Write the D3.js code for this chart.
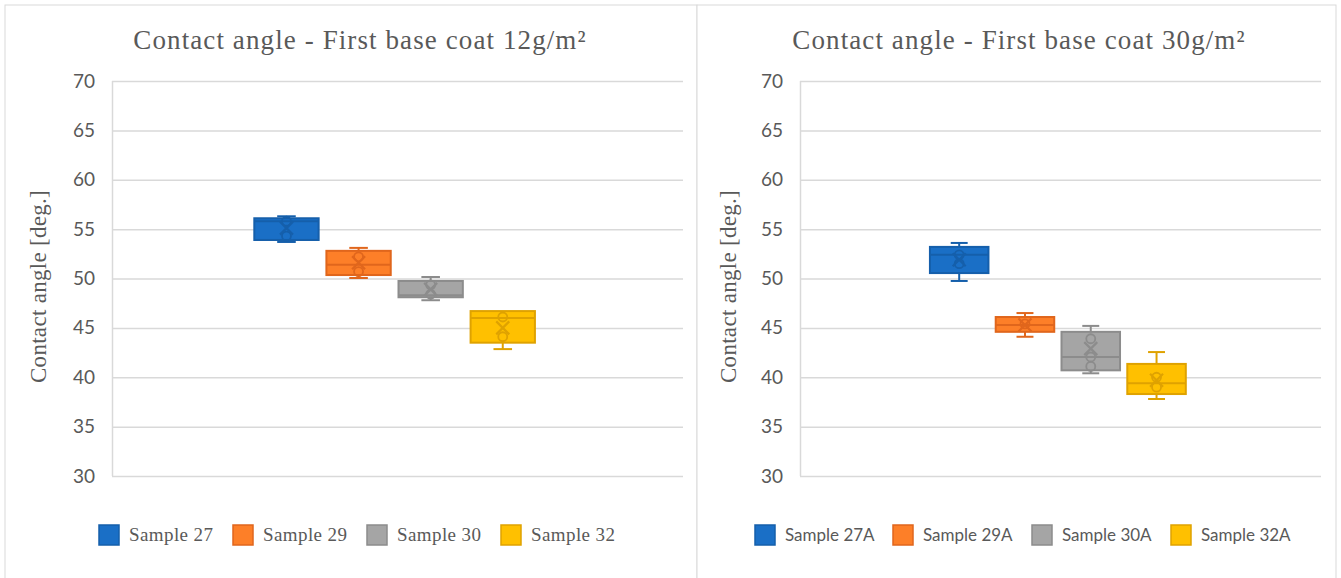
<!DOCTYPE html>
<html>
<head>
<meta charset="utf-8">
<script src="https://cdn.jsdelivr.net/npm/d3@7"></script>
<style>
  body { margin: 0; background: #fff; }
  svg { display: block; }
</style>
</head>
<body>
<svg id="chart" width="1341" height="578"></svg>
<script>
// -------------------------
// DATA
// -------------------------
const samplesLeft = ["Sample 27", "Sample 29", "Sample 30", "Sample 32"];
const minLeft = [53.7, 50.05, 47.8, 42.85];
const q1Left = [53.9, 50.35, 48.1, 43.5];
const medLeft = [55.8, 51.4, 48.3, 46.0];
const q3Left = [56.1, 52.8, 49.75, 46.7];
const maxLeft = [56.3, 53.1, 50.15, 46.7];
const meanLeft = [55.1, 51.6, 48.9, 45.0];
const pointsLeft = [[55.8, 54.3], [52.2, 50.7], [49.35, 48.4], [46.1, 44.1]];

const samplesRight = ["Sample 27A", "Sample 29A", "Sample 30A", "Sample 32A"];
const minRight = [49.75, 44.1, 40.4, 37.8];
const q1Right = [50.55, 44.6, 40.7, 38.3];
const medRight = [52.4, 45.3, 42.05, 39.4];
const q3Right = [53.2, 46.1, 44.6, 41.35];
const maxRight = [53.6, 46.5, 45.2, 42.55];
const meanRight = [51.9, 45.3, 42.9, 39.7];
const pointsRight = [[52.4, 51.5], [45.4], [43.9, 42.05, 41.1], [40.0, 39.0]];

const yTicks = [30, 35, 40, 45, 50, 55, 60, 65, 70];
const fills = ["#1a6fc6", "#fd7f28", "#a5a5a5", "#ffc000"];
const strokes = ["#155fab", "#e0661c", "#8c8c8c", "#dfa200"];

const svg = d3.select("#chart");
const serif = "'Liberation Serif', 'DejaVu Serif', serif";

// -------------------------
// PANEL
// -------------------------
function drawPanel(p) {
  const g = svg.append("g");

  g.append("rect")
    .attr("x", p.frame[0]).attr("y", 5)
    .attr("width", p.frame[1] - p.frame[0]).attr("height", 600)
    .attr("fill", "#fff").attr("stroke", "#d9d9d9").attr("stroke-width", 1);

  const y = d3.scaleLinear().domain([30, 70]).range([476, 81]);
  const x = d3.scaleBand().domain(p.names)
    .range([p.left, p.right]).paddingInner(0.08).paddingOuter(2).align(0.49);

  // gridlines
  g.selectAll(".grid").data(yTicks).enter().append("line")
    .attr("x1", p.left).attr("x2", p.right)
    .attr("y1", d => y(d) + 0.5).attr("y2", d => y(d) + 0.5)
    .attr("stroke", "#d9d9d9").attr("stroke-width", 1.5);
  g.append("line")
    .attr("x1", p.left + 0.5).attr("x2", p.left + 0.5)
    .attr("y1", y(70)).attr("y2", y(30))
    .attr("stroke", "#d9d9d9").attr("stroke-width", 1.5);

  // y axis labels
  const axis = d3.axisLeft(y).tickValues(yTicks).tickSize(0).tickPadding(17);
  const ax = g.append("g").attr("transform", `translate(${p.left},0)`).call(axis);
  ax.select(".domain").remove();
  ax.selectAll("text")
    .attr("font-family", "Lato, 'Open Sans', sans-serif")
    .attr("font-size", 19).attr("fill", "#595959");

  // titles
  g.append("text")
    .attr("x", p.titleX).attr("y", 49).attr("text-anchor", "middle")
    .attr("font-family", serif).attr("font-size", 27)
    .attr("letter-spacing", 1.1).attr("fill", "#595959")
    .text(p.title);
  g.append("text")
    .attr("transform", `translate(${p.axisTitleX},${(y(70) + y(30)) / 2 + 8}) rotate(-90)`)
    .attr("text-anchor", "middle")
    .attr("font-family", serif).attr("font-size", 23)
    .attr("letter-spacing", 0.3).attr("fill", "#595959")
    .text("Contact angle [deg.]");

  // boxes
  const bw = x.bandwidth();
  const cap = bw * 0.28;
  p.names.forEach((name, i) => {
    const cx = x(name) + bw / 2;
    const bg = g.append("g");
    const col = strokes[i];
    // whiskers
    if (p.max[i] > p.q3[i]) {
      bg.append("line").attr("x1", cx).attr("x2", cx).attr("y1", y(p.max[i])).attr("y2", y(p.q3[i]))
        .attr("stroke", col).attr("stroke-width", 2);
      bg.append("line").attr("x1", cx - cap / 2).attr("x2", cx + cap / 2)
        .attr("y1", y(p.max[i])).attr("y2", y(p.max[i])).attr("stroke", col).attr("stroke-width", 2);
    }
    if (p.min[i] < p.q1[i]) {
      bg.append("line").attr("x1", cx).attr("x2", cx).attr("y1", y(p.q1[i])).attr("y2", y(p.min[i]))
        .attr("stroke", col).attr("stroke-width", 2);
      bg.append("line").attr("x1", cx - cap / 2).attr("x2", cx + cap / 2)
        .attr("y1", y(p.min[i])).attr("y2", y(p.min[i])).attr("stroke", col).attr("stroke-width", 2);
    }
    // box
    bg.append("rect")
      .attr("x", x(name) + 1).attr("y", y(p.q3[i]))
      .attr("width", bw - 2).attr("height", y(p.q1[i]) - y(p.q3[i]))
      .attr("fill", fills[i]).attr("stroke", col).attr("stroke-width", 2);
    // median
    bg.append("line").attr("x1", x(name) + 1).attr("x2", x(name) + bw - 1)
      .attr("y1", y(p.med[i])).attr("y2", y(p.med[i])).attr("stroke", col).attr("stroke-width", 2);
    // inner points
    p.points[i].forEach(v => {
      bg.append("circle").attr("cx", cx).attr("cy", y(v)).attr("r", 4.5)
        .attr("fill", "none").attr("stroke", col).attr("stroke-width", 1.8);
    });
    // mean marker
    const m = y(p.mean[i]), s = 6.5;
    bg.append("path")
      .attr("d", `M${cx - s},${m - s}L${cx + s},${m + s}M${cx - s},${m + s}L${cx + s},${m - s}`)
      .attr("stroke", col).attr("stroke-width", 2.2).attr("fill", "none");
  });

  // legend
  const lg = g.append("g");
  p.names.forEach((name, i) => {
    const lx = p.legendX[i];
    lg.append("rect").attr("x", lx).attr("y", 525).attr("width", 20).attr("height", 20)
      .attr("fill", fills[i]).attr("stroke", strokes[i]).attr("stroke-width", 1.5);
    lg.append("text").attr("x", lx + 30).attr("y", 541)
      .attr("font-family", p.legendFont).attr("font-size", p.legendSize)
      .attr("letter-spacing", p.legendSpacing)
      .attr("fill", "#595959").text(name);
  });
}

drawPanel({
  frame: [5, 697], left: 112, right: 683, titleX: 360, axisTitleX: 46,
  title: "Contact angle - First base coat 12g/m²",
  names: samplesLeft, min: minLeft, q1: q1Left, med: medLeft, q3: q3Left,
  max: maxLeft, mean: meanLeft, points: pointsLeft,
  legendX: [99, 233, 367, 501],
  legendFont: serif, legendSize: 19, legendSpacing: 0.4
});

drawPanel({
  frame: [697, 1336], left: 800, right: 1321, titleX: 1019, axisTitleX: 736,
  title: "Contact angle - First base coat 30g/m²",
  names: samplesRight, min: minRight, q1: q1Right, med: medRight, q3: q3Right,
  max: maxRight, mean: meanRight, points: pointsRight,
  legendX: [755, 893, 1032, 1171],
  legendFont: "Lato, 'Open Sans', sans-serif", legendSize: 17, legendSpacing: 0
});
</script>
</body>
</html>
